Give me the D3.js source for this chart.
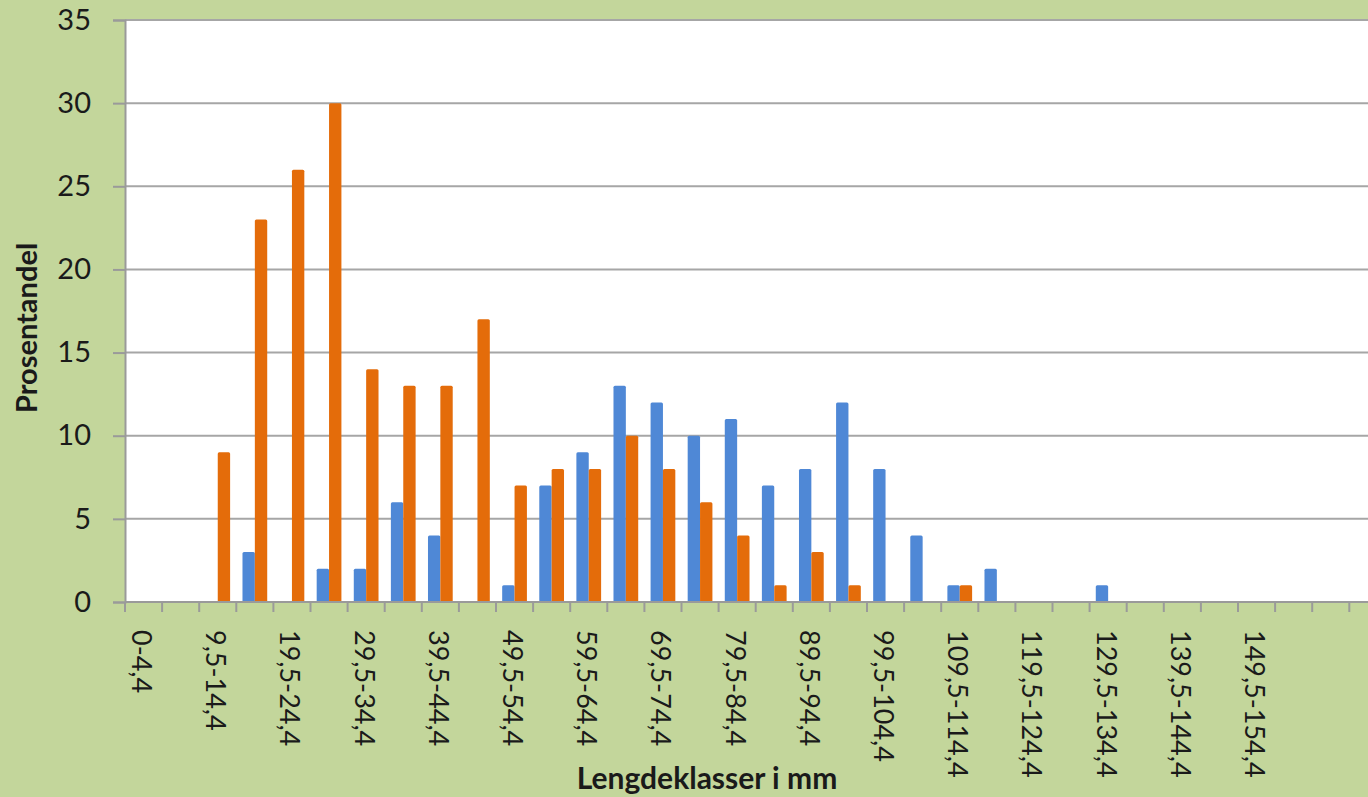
<!DOCTYPE html>
<html><head><meta charset="utf-8">
<script src="https://cdn.jsdelivr.net/npm/d3@7"></script>
<style>body{margin:0;background:#c3d69b;overflow:hidden}svg{display:block}text{font-family:Lato,"Open Sans",sans-serif}</style>
</head><body><svg id="c" width="1368" height="797"></svg>
<script>
const categories = ["0-4,4","4,5-9,4","9,5-14,4","14,5-19,4","19,5-24,4","24,5-29,4","29,5-34,4","34,5-39,4","39,5-44,4","44,5-49,4","49,5-54,4","54,5-59,4","59,5-64,4","64,5-69,4","69,5-74,4","74,5-79,4","79,5-84,4","84,5-89,4","89,5-94,4","94,5-99,4","99,5-104,4","104,5-109,4","109,5-114,4","114,5-119,4","119,5-124,4","124,5-129,4","129,5-134,4","134,5-139,4","139,5-144,4","144,5-149,4","149,5-154,4","154,5-159,4","",""];
const blueValues = [0,0,0,3,0,2,2,6,4,0,1,7,9,13,12,10,11,7,8,12,8,4,1,2,0,0,1,0,0,0,0,0,0,0];
const orangeValues = [0,0,9,23,26,30,14,13,13,17,7,8,8,10,8,6,4,1,3,1,0,0,1,0,0,0,0,0,0,0,0,0,0,0];
const yTicks = [0,5,10,15,20,25,30,35];
const xTitle = "Lengdeklasser i mm";
const yTitle = "Prosentandel";

(function(){
const svg = d3.select("#c");
const mLeft = 125, mTop = 20, mBottom = 602, step = 37.1;
const mRight = mLeft + step*categories.length;
svg.append("rect").attr("width",1368).attr("height",797).attr("fill","#c3d69b");
svg.append("rect").attr("x",mLeft).attr("y",mTop).attr("width",mRight-mLeft).attr("height",mBottom-mTop).attr("fill","#ffffff");

const x = d3.scaleBand().domain(d3.range(categories.length)).range([mLeft,mRight]).paddingInner(0).paddingOuter(0);
const y = d3.scaleLinear().domain([0,35]).range([mBottom,mTop]);
const bw = x.bandwidth()/3;

svg.append("g").selectAll("line").data(yTicks.filter(t=>t>0)).join("line")
  .attr("x1",mLeft).attr("x2",mRight).attr("y1",d=>y(d)).attr("y2",d=>y(d))
  .attr("stroke","#a6a6a6").attr("stroke-width",2);

const ya = svg.append("g").attr("transform",`translate(${mLeft},0)`)
  .call(d3.axisLeft(y).tickValues(yTicks).tickSize(12).tickPadding(22));
ya.select(".domain").attr("stroke","#9a9a9a").attr("stroke-width",2);
ya.selectAll(".tick line").attr("stroke","#9a9a9a").attr("stroke-width",2);
ya.selectAll(".tick text").attr("font-size",29).attr("fill","#1a1a1a").attr("font-family","Lato");

const bars = svg.append("g");
bars.selectAll(".b").data(blueValues.map((v,i)=>({v,i})).filter(d=>d.v>0)).join("rect")
  .attr("x",d=>x(d.i)+0.5*bw).attr("width",bw).attr("y",d=>y(d.v)).attr("height",d=>mBottom-y(d.v))
  .attr("fill","#4f88d6").attr("rx",1.5);
bars.selectAll(".o").data(orangeValues.map((v,i)=>({v,i})).filter(d=>d.v>0)).join("rect")
  .attr("x",d=>x(d.i)+1.5*bw).attr("width",bw).attr("y",d=>y(d.v)).attr("height",d=>mBottom-y(d.v))
  .attr("fill","#e46c0a").attr("rx",1.5);

const xa = svg.append("g");
xa.append("line").attr("x1",mLeft).attr("x2",mRight).attr("y1",mBottom).attr("y2",mBottom).attr("stroke","#9a9a9a").attr("stroke-width",2);
xa.selectAll(".t").data(d3.range(categories.length+1)).join("line")
  .attr("x1",d=>mLeft+d*step).attr("x2",d=>mLeft+d*step).attr("y1",mBottom).attr("y2",mBottom+10)
  .attr("stroke","#9a9a9a").attr("stroke-width",2);
xa.selectAll("text").data(categories.map((c,i)=>({c,i})).filter(d=>d.i%2===0 && d.c)).join("text")
  .attr("transform",d=>`translate(${x(d.i)+x.bandwidth()/2-2},${mBottom+28}) rotate(90)`)
  .attr("dy","0.35em").attr("font-size",27).attr("fill","#1a1a1a").text(d=>d.c);

svg.append("text").attr("x",707).attr("y",789).attr("text-anchor","middle").attr("font-weight","bold")
  .attr("font-size",30).attr("fill","#1a1a1a").text(xTitle);
svg.append("text").attr("transform","translate(37,328) rotate(-90)").attr("text-anchor","middle").attr("font-weight","bold")
  .attr("font-size",29).attr("fill","#1a1a1a").text(yTitle);
})();
</script></body></html>
